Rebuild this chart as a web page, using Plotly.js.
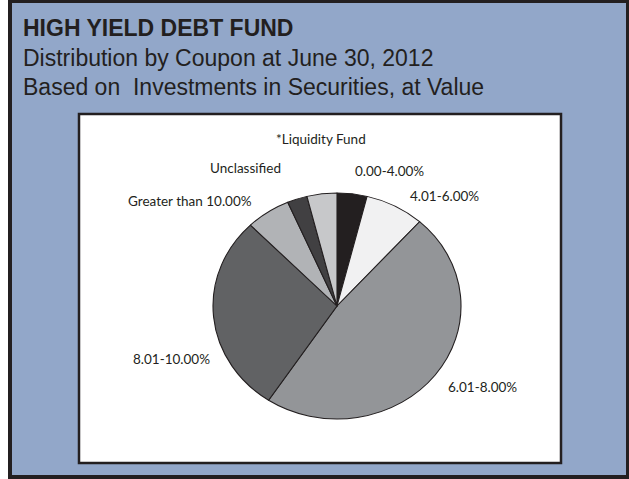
<!DOCTYPE html>
<html>
<head>
<meta charset="utf-8">
<script src="https://cdn.plot.ly/plotly-3.0.1.min.js"></script>
<style>
html,body{margin:0;padding:0;background:#ffffff;}
#chart{width:629px;height:479px;}
</style>
</head>
<body>
<div id="chart"></div>
<script>
// ---- data ----
const categories = ["0.00-4.00%", "4.01-6.00%", "6.01-8.00%", "8.01-10.00%", "Greater than 10.00%", "Unclassified", "*Liquidity Fund"];
const shares = [3.9, 7.7, 47.7, 28.4, 5.8, 2.6, 3.9];
const titleLines = ["HIGH YIELD DEBT FUND", "Distribution by Coupon at June 30, 2012", "Based on \u00a0Investments in Securities, at Value"];

// ---- styles / layout positions ----
const sliceColors = ["#231f20", "#f1f1f2", "#939598", "#616264", "#b1b3b6", "#414042", "#c7c8ca"];
const labelPx = [[389,171],[444,196],[483,387],[171,359],[190,201],[245,168],[321,139]];
const W = 629, H = 479;
const px = x => x / W;
const py = y => 1 - y / H;
const cx = 337, cy = 306, ry = 113, rx = 124;
const ink = "#231f20";
const blue = "#92a7c9";

const trace = {
  type: "pie",
  labels: categories,
  values: shares,
  sort: false,
  direction: "clockwise",
  rotation: 0,
  textinfo: "none",
  hoverinfo: "label+percent",
  showlegend: false,
  marker: {colors: sliceColors, line: {color: ink, width: 1}},
  domain: {x: [px(cx - ry), px(cx + ry)], y: [py(cy + ry), py(cy - ry)]}
};

const annotations = [];
const titleY = [28, 58, 87];
titleLines.forEach((t, i) => {
  annotations.push({
    xref: "paper", yref: "paper", x: px(21), y: py(titleY[i]),
    xanchor: "left", yanchor: "middle", showarrow: false,
    text: i === 0 ? "<b>" + t + "</b>" : t,
    font: {family: "Liberation Sans, Arial, sans-serif", size: 23, color: ink}
  });
});
categories.forEach((c, i) => {
  annotations.push({
    xref: "paper", yref: "paper", x: px(labelPx[i][0]), y: py(labelPx[i][1]),
    xanchor: "center", yanchor: "middle", showarrow: false,
    text: c,
    font: {family: "Lato, Open Sans, sans-serif", size: 13.5, color: ink}
  });
});

const shapes = [
  {type: "rect", xref: "paper", yref: "paper", x0: px(8), x1: px(629), y0: py(479), y1: py(0), fillcolor: ink, line: {width: 0}, layer: "below"},
  {type: "rect", xref: "paper", yref: "paper", x0: px(12), x1: px(626), y0: py(475), y1: py(3), fillcolor: blue, line: {width: 0}, layer: "below"},
  {type: "rect", xref: "paper", yref: "paper", x0: px(79), x1: px(561), y0: py(463), y1: py(114), fillcolor: "#ffffff", line: {color: ink, width: 2.5}, layer: "below"}
];

const layout = {
  width: W, height: H,
  margin: {l: 0, r: 0, t: 0, b: 0, pad: 0},
  paper_bgcolor: "#ffffff",
  plot_bgcolor: "rgba(0,0,0,0)",
  showlegend: false,
  shapes: shapes,
  annotations: annotations
};

Plotly.newPlot("chart", [trace], layout, {displayModeBar: false, staticPlot: true}).then(() => {
  const g = document.querySelector("#chart .pielayer");
  if (g) {
    const s = rx / ry;
    g.setAttribute("transform", `translate(${cx},0) scale(${s},1) translate(${-cx},0)`);
  }
});
</script>
</body>
</html>
